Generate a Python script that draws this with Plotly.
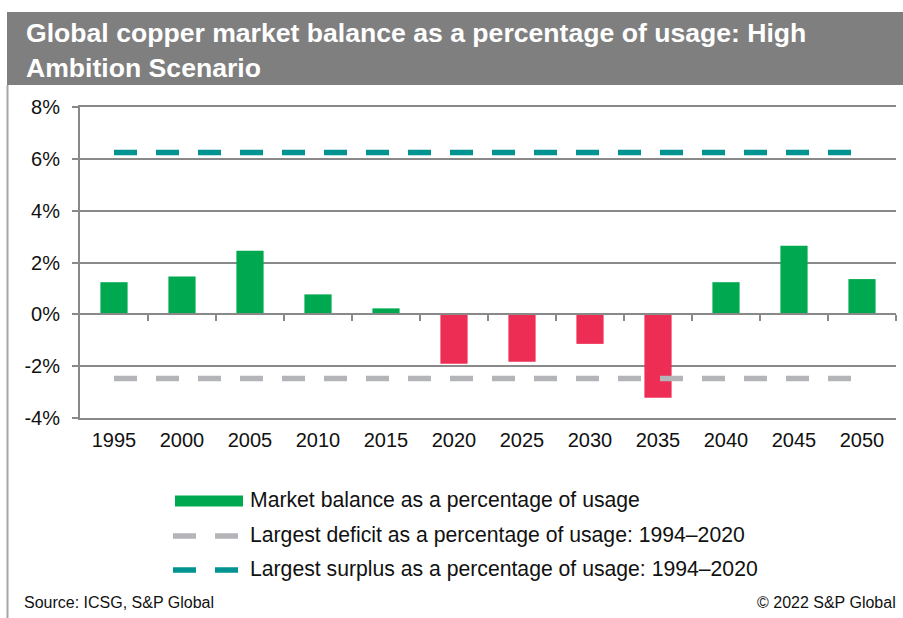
import plotly.graph_objects as go

# ---- data -------------------------------------------------------------
years = ["1995", "2000", "2005", "2010", "2015", "2020",
         "2025", "2030", "2035", "2040", "2045", "2050"]
market_balance_pct = [1.24, 1.46, 2.45, 0.77, 0.23, -1.91,
                      -1.83, -1.14, -3.22, 1.24, 2.65, 1.36]
largest_deficit_pct = -2.48
largest_surplus_pct = 6.24
y_tick_values = [-4, -2, 0, 2, 4, 6, 8]
y_tick_labels = ["-4%", "-2%", "0%", "2%", "4%", "6%", "8%"]

legend_labels = [
    "Market balance as a percentage of usage",
    "Largest deficit as a percentage of usage: 1994\u20132020",
    "Largest surplus as a percentage of usage: 1994\u20132020",
]
title_text = "Global copper market balance as a percentage of usage: High<br>Ambition Scenario"
source_text = "Source: ICSG, S&P Global"
copyright_text = "\u00a9 2022 S&P Global"

# ---- styling ----------------------------------------------------------
GREEN = "#00A94F"
RED = "#EE2D55"
TEAL = "#00938F"
LIGHT_GREY = "#B4B5B8"
GRID = "#898989"
TITLE_BG = "#7F7F7F"
TEXT = "#111111"
FONT = "Liberation Sans, Arial, sans-serif"
DASH = "23px,19px"

W, H = 903, 618
PLOT_L, PLOT_R, PLOT_T, PLOT_B = 80, 896, 107, 418


def px(x):
    """Page pixel column -> paper x."""
    return (x - PLOT_L) / (PLOT_R - PLOT_L)


def py(y):
    """Page pixel row -> paper y."""
    return (PLOT_B - y) / (PLOT_B - PLOT_T)


bar_colors = [GREEN if v >= 0 else RED for v in market_balance_pct]

fig = go.Figure()

fig.add_trace(go.Bar(
    x=years, y=market_balance_pct, width=0.4,
    marker=dict(color=bar_colors, line=dict(width=0)),
    showlegend=False, hoverinfo="skip",
))
fig.add_trace(go.Scatter(
    x=years, y=[largest_deficit_pct] * len(years), mode="lines",
    line=dict(color=LIGHT_GREY, width=5.5, dash=DASH),
    showlegend=False, hoverinfo="skip",
))
fig.add_trace(go.Scatter(
    x=years, y=[largest_surplus_pct] * len(years), mode="lines",
    line=dict(color=TEAL, width=5.5, dash=DASH),
    showlegend=False, hoverinfo="skip",
))

y_min, y_max = y_tick_values[0], y_tick_values[-1]
zero_pos = (0 - y_min) / (y_max - y_min)
n = len(years)

fig.update_layout(
    width=W, height=H,
    margin=dict(l=PLOT_L, r=W - PLOT_R, t=PLOT_T, b=H - PLOT_B),
    paper_bgcolor="white", plot_bgcolor="white",
    font=dict(family=FONT, color=TEXT),
    bargap=0.6,
    xaxis=dict(
        type="category", categoryorder="array", categoryarray=years,
        range=[-0.5, n - 0.5],
        showgrid=False, zeroline=False,
        showline=True, mirror=True, linecolor=GRID, linewidth=2,
        ticks="", tickfont=dict(size=20, color=TEXT, family=FONT),
        ticklabelstandoff=3,
    ),
    # axis line through 0% carrying the category separator ticks
    xaxis2=dict(
        overlaying="x", anchor="free", position=zero_pos,
        type="linear", range=[-0.5, n - 0.5],
        tickmode="array", tickvals=[i + 0.5 for i in range(n)],
        ticks="outside", ticklen=6, tickwidth=2, tickcolor=GRID,
        showticklabels=False, showgrid=False, zeroline=False,
        showline=True, linecolor=GRID, linewidth=2,
    ),
    yaxis=dict(
        range=[y_min, y_max], tickmode="array",
        tickvals=y_tick_values, ticktext=y_tick_labels,
        showgrid=True, gridcolor=GRID, gridwidth=2, zeroline=False,
        showline=True, linecolor=GRID, linewidth=2,
        ticks="outside", ticklen=6, tickwidth=2, tickcolor=GRID,
        tickfont=dict(size=20, color=TEXT, family=FONT),
        ticklabelstandoff=8,
    ),
)

# empty trace so xaxis2 is drawn
fig.add_trace(go.Scatter(x=[None], y=[None], xaxis="x2", showlegend=False,
                         hoverinfo="skip"))

shapes = []
annotations = []

# title band and left frame rule
shapes.append(dict(type="rect", xref="paper", yref="paper",
                   x0=px(7), x1=px(W), y0=py(85), y1=py(12),
                   fillcolor=TITLE_BG, line=dict(width=0), layer="below"))
shapes.append(dict(type="line", xref="paper", yref="paper",
                   x0=px(7.5), x1=px(7.5), y0=py(85), y1=py(H),
                   line=dict(color="#A6A6A6", width=2)))
annotations.append(dict(
    text="<b>" + title_text + "</b>", xref="paper", yref="paper",
    x=px(24), y=py(50), xanchor="left", yanchor="middle", align="left",
    showarrow=False, font=dict(size=26.6, color="white", family=FONT),
))

# legend drawn below the plot
rows = [501, 536, 570]
shapes.append(dict(type="rect", xref="paper", yref="paper",
                   x0=px(175), x1=px(243), y0=py(rows[0] - 5.5), y1=py(rows[0] + 5.5),
                   fillcolor=GREEN, line=dict(width=0)))
for row, color in zip(rows[1:], [LIGHT_GREY, TEAL]):
    shapes.append(dict(type="line", xref="paper", yref="paper",
                       x0=px(173), x1=px(238), y0=py(row), y1=py(row),
                       line=dict(color=color, width=5.5, dash=DASH)))
for row, label in zip(rows, legend_labels):
    annotations.append(dict(
        text=label, xref="paper", yref="paper", x=px(248), y=py(row - 1),
        xanchor="left", yanchor="middle", showarrow=False,
        font=dict(size=21.2, color=TEXT, family=FONT),
    ))

# footer
annotations.append(dict(
    text=source_text, xref="paper", yref="paper", x=px(22), y=py(602),
    xanchor="left", yanchor="middle", showarrow=False,
    font=dict(size=16, color=TEXT, family=FONT),
))
annotations.append(dict(
    text=copyright_text, xref="paper", yref="paper", x=px(898), y=py(602),
    xanchor="right", yanchor="middle", showarrow=False,
    font=dict(size=16, color=TEXT, family=FONT),
))

fig.update_layout(shapes=shapes, annotations=annotations)

fig.write_html("out.html", config={"displayModeBar": False})
